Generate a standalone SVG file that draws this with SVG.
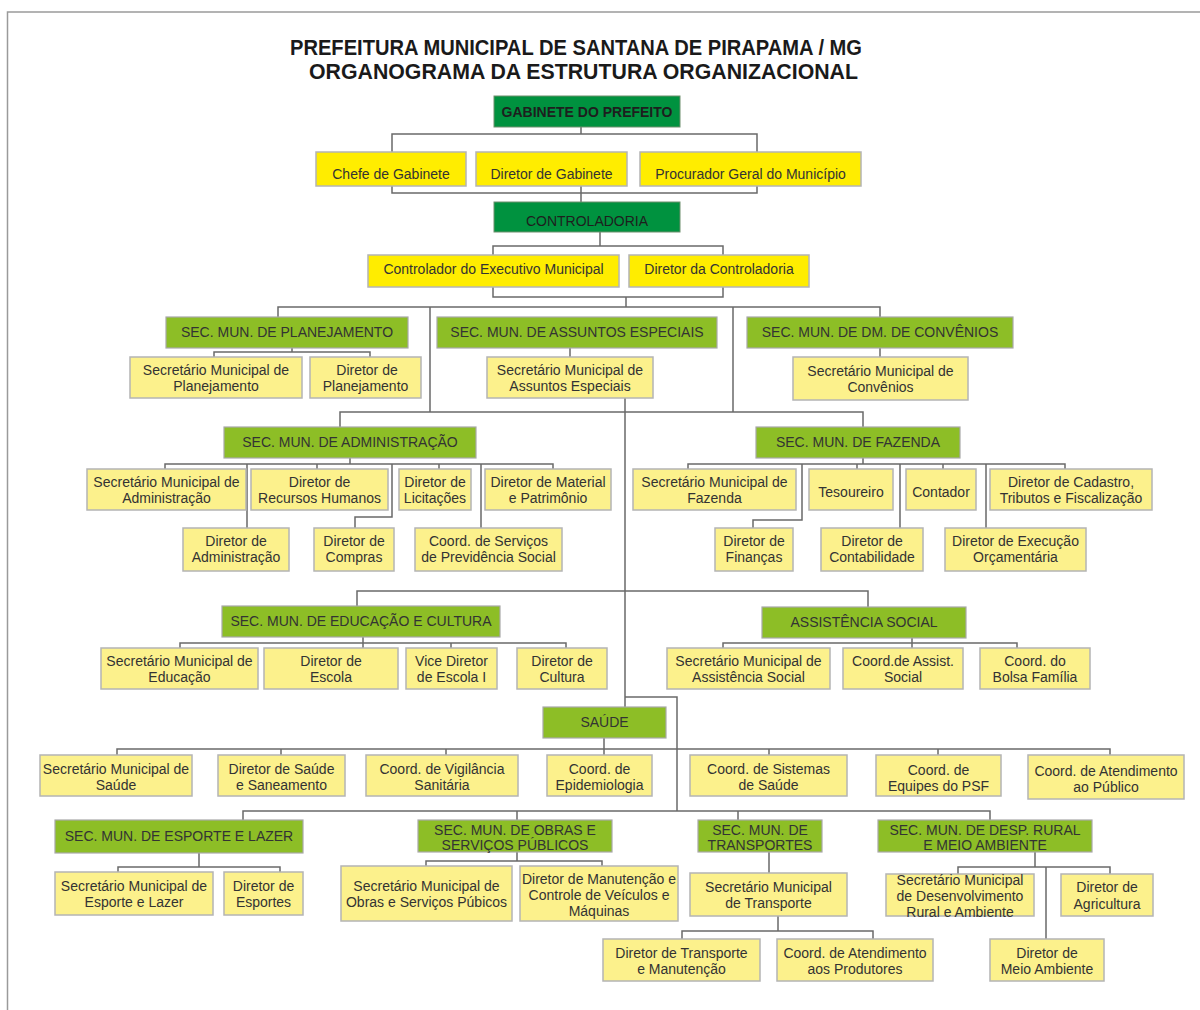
<svg xmlns="http://www.w3.org/2000/svg" width="1200" height="1010" viewBox="0 0 1200 1010">
<style>
.bg{fill:#ffffff}
.frame{stroke:#9a9a9a;stroke-width:1.5;fill:none}
.dg{fill:#00923f;stroke:#6f8f6f;stroke-width:1}
.yb{fill:#ffed00;stroke:#b4b4b4;stroke-width:1.5}
.lg{fill:#8dbe26;stroke:#a8a8a8;stroke-width:1.2}
.py{fill:#fcf18c;stroke:#b4b4b4;stroke-width:1.5}
text{font-family:"Liberation Sans",Arial,sans-serif;font-size:14px;fill:#333;text-anchor:middle}
.b{font-weight:bold;fill:#1e1e1e}
.title{font-weight:bold;font-size:22px;fill:#1a1a1a;text-anchor:start}
.c{stroke:#6a6a6a;stroke-width:1.5;fill:none}
</style>
<rect class="bg" x="0" y="0" width="1200" height="1010"/>
<path class="frame" d="M7.5,1010 V12 H1200"/>
<text class="title" x="290" y="55" textLength="572" lengthAdjust="spacingAndGlyphs">PREFEITURA MUNICIPAL DE SANTANA DE PIRAPAMA / MG</text>
<text class="title" x="309" y="79" textLength="549" lengthAdjust="spacingAndGlyphs">ORGANOGRAMA DA ESTRUTURA ORGANIZACIONAL</text>

<g id="connectors">
<path class="c" d="M581,127 V134 M392,152 V134 H757 V152"/>
<path class="c" d="M392,186 V193 H757 V186 M581,186 V202"/>
<path class="c" d="M600,232 V246 M493,255 V246 H723 V255"/>
<path class="c" d="M493,287 V297 H723 V287 M626,297 V307"/>
<path class="c" d="M278,317 V307 H880 V317 M430,307 V412 M733,307 V412"/>
<path class="c" d="M292,348 V352 M214,357 V352 H370 V357"/>
<path class="c" d="M570,348 V357"/>
<path class="c" d="M880,348 V357"/>
<path class="c" d="M340,427 V412 H863 V427"/>
<path class="c" d="M625,398 V707 M625,697 H677 V811"/>
<path class="c" d="M350,458 V464 M165,469 V464 H553 V469 M317,464 V469 M439,464 V469 M247,464 V528 M392,464 V517 H355 V528 M481,464 V528"/>
<path class="c" d="M863,458 V464 M688,469 V464 H1065 V469 M857,464 V469 M943,464 V469 M802,464 V520 H753 V528 M900,464 V528 M986,464 V528"/>
<path class="c" d="M357,606 V591 H868 V607"/>
<path class="c" d="M363,637 V648 M180,648 V643 H566 V648 M451,643 V648"/>
<path class="c" d="M912,638 V648 M723,648 V643 H1017 V648"/>
<path class="c" d="M604,738 V755 M117,755 V749 H1110 V755 M281,749 V755 M446,749 V755 M769,749 V755 M938,749 V755"/>
<path class="c" d="M243,820 V811 H990 V820 M517,811 V820 M738,811 V820"/>
<path class="c" d="M199,853 V867 M118,872 V867 H280 V872"/>
<path class="c" d="M517,852 V861 M426,866 V861 H602 V866"/>
<path class="c" d="M769,852 V873 M778,916 V931 M682,939 V931 H873 V939"/>
<path class="c" d="M1035,852 V867 M958,874 V867 H1110 V874 M1046,867 V939"/>
</g>

<g id="gabinete"><rect class="dg" x="494" y="96" width="186" height="31"/><text class="b" x="587" y="117">GABINETE DO PREFEITO</text></g>
<g id="chefe"><rect class="yb" x="316" y="152" width="150" height="34"/><text x="391" y="179">Chefe de Gabinete</text></g>
<g id="dirgab"><rect class="yb" x="476" y="152" width="151" height="34"/><text x="551.5" y="179">Diretor de Gabinete</text></g>
<g id="procurador"><rect class="yb" x="640" y="152" width="221" height="34"/><text x="750.5" y="179">Procurador Geral do Município</text></g>
<g id="controladoria"><rect class="dg" x="494" y="202" width="186" height="30"/><text x="587" y="226" style="fill:#1e1e1e">CONTROLADORIA</text></g>
<g id="controlador"><rect class="yb" x="368" y="255" width="251" height="32"/><text x="493.5" y="274">Controlador do Executivo Municipal</text></g>
<g id="dirctrl"><rect class="yb" x="629" y="255" width="180" height="32"/><text x="719" y="274">Diretor da Controladoria</text></g>

<g id="planejamento"><rect class="lg" x="166" y="317" width="242" height="31"/><text x="287" y="337">SEC. MUN. DE PLANEJAMENTO</text></g>
<g id="assuntos"><rect class="lg" x="437" y="317" width="280" height="31"/><text x="577" y="337">SEC. MUN. DE ASSUNTOS ESPECIAIS</text></g>
<g id="convenios"><rect class="lg" x="747" y="317" width="266" height="31"/><text x="880" y="337">SEC. MUN. DE DM. DE CONVÊNIOS</text></g>
<g id="secplan"><rect class="py" x="130" y="357" width="172" height="41"/><text x="216" y="375">Secretário Municipal de</text><text x="216" y="391">Planejamento</text></g>
<g id="dirplan"><rect class="py" x="310" y="357" width="111" height="41"/><text x="367" y="375">Diretor de</text><text x="365.5" y="391">Planejamento</text></g>
<g id="secassu"><rect class="py" x="487" y="357" width="166" height="41"/><text x="570" y="375">Secretário Municipal de</text><text x="570" y="391">Assuntos Especiais</text></g>
<g id="secconv"><rect class="py" x="793" y="357" width="175" height="43"/><text x="880.5" y="376">Secretário Municipal de</text><text x="880.5" y="392">Convênios</text></g>

<g id="administracao"><rect class="lg" x="224" y="427" width="252" height="31"/><text x="350" y="447">SEC. MUN. DE ADMINISTRAÇÃO</text></g>
<g id="secadm"><rect class="py" x="87" y="469" width="159" height="41"/><text x="166.5" y="487">Secretário Municipal de</text><text x="166.5" y="503">Administração</text></g>
<g id="dirrh"><rect class="py" x="251" y="469" width="137" height="41"/><text x="319.5" y="487">Diretor de</text><text x="319.5" y="503">Recursos Humanos</text></g>
<g id="dirlic"><rect class="py" x="399" y="469" width="72" height="41"/><text x="435" y="487">Diretor de</text><text x="435" y="503">Licitações</text></g>
<g id="dirmat"><rect class="py" x="485" y="469" width="126" height="41"/><text x="548" y="487">Diretor de Material</text><text x="548" y="503">e Patrimônio</text></g>
<g id="diradm"><rect class="py" x="183" y="528" width="106" height="43"/><text x="236" y="546">Diretor de</text><text x="236" y="562">Administração</text></g>
<g id="dircomp"><rect class="py" x="314" y="528" width="80" height="43"/><text x="354" y="546">Diretor de</text><text x="354" y="562">Compras</text></g>
<g id="coordprev"><rect class="py" x="415" y="528" width="147" height="43"/><text x="488.5" y="546">Coord. de Serviços</text><text x="488.5" y="562">de Previdência Social</text></g>

<g id="fazenda"><rect class="lg" x="756" y="427" width="204" height="31"/><text x="858" y="447">SEC. MUN. DE FAZENDA</text></g>
<g id="secfaz"><rect class="py" x="633" y="469" width="163" height="41"/><text x="714.5" y="487">Secretário Municipal de</text><text x="714.5" y="503">Fazenda</text></g>
<g id="tesoureiro"><rect class="py" x="809" y="469" width="84" height="41"/><text x="851" y="497">Tesoureiro</text></g>
<g id="contador"><rect class="py" x="906" y="469" width="70" height="41"/><text x="941" y="497">Contador</text></g>
<g id="dircad"><rect class="py" x="990" y="469" width="162" height="41"/><text x="1071" y="487">Diretor de Cadastro,</text><text x="1071" y="503">Tributos e Fiscalização</text></g>
<g id="dirfin"><rect class="py" x="715" y="528" width="78" height="43"/><text x="754" y="546">Diretor de</text><text x="754" y="562">Finanças</text></g>
<g id="dircont"><rect class="py" x="821" y="528" width="102" height="43"/><text x="872" y="546">Diretor de</text><text x="872" y="562">Contabilidade</text></g>
<g id="direxec"><rect class="py" x="945" y="528" width="141" height="43"/><text x="1015.5" y="546">Diretor de Execução</text><text x="1015.5" y="562">Orçamentária</text></g>

<g id="educacao"><rect class="lg" x="222" y="606" width="278" height="31"/><text x="361" y="626">SEC. MUN. DE EDUCAÇÃO E CULTURA</text></g>
<g id="seceduc"><rect class="py" x="101" y="648" width="157" height="41"/><text x="179.5" y="666">Secretário Municipal de</text><text x="179.5" y="682">Educação</text></g>
<g id="direscola"><rect class="py" x="264" y="648" width="134" height="41"/><text x="331" y="666">Diretor de</text><text x="331" y="682">Escola</text></g>
<g id="vicedir"><rect class="py" x="406" y="648" width="91" height="41"/><text x="451.5" y="666">Vice Diretor</text><text x="451.5" y="682">de Escola I</text></g>
<g id="dircult"><rect class="py" x="517" y="648" width="90" height="41"/><text x="562" y="666">Diretor de</text><text x="562" y="682">Cultura</text></g>

<g id="assistencia"><rect class="lg" x="762" y="607" width="204" height="31"/><text x="864" y="627">ASSISTÊNCIA SOCIAL</text></g>
<g id="secassist"><rect class="py" x="667" y="648" width="163" height="41"/><text x="748.5" y="666">Secretário Municipal de</text><text x="748.5" y="682">Assistência Social</text></g>
<g id="coordassist"><rect class="py" x="843" y="648" width="120" height="41"/><text x="903" y="666">Coord.de Assist.</text><text x="903" y="682">Social</text></g>
<g id="bolsa"><rect class="py" x="980" y="648" width="110" height="41"/><text x="1035" y="666">Coord. do</text><text x="1035" y="682">Bolsa Família</text></g>

<g id="saude"><rect class="lg" x="543" y="707" width="123" height="31"/><text x="604.5" y="727">SAÚDE</text></g>
<g id="secsaude"><rect class="py" x="40" y="755" width="152" height="41"/><text x="116" y="774">Secretário Municipal de</text><text x="116" y="790">Saúde</text></g>
<g id="dirsaude"><rect class="py" x="218" y="755" width="127" height="41"/><text x="281.5" y="774">Diretor de Saúde</text><text x="281.5" y="790">e Saneamento</text></g>
<g id="vigilancia"><rect class="py" x="366" y="755" width="152" height="41"/><text x="442" y="774">Coord. de Vigilância</text><text x="442" y="790">Sanitária</text></g>
<g id="epidem"><rect class="py" x="547" y="755" width="105" height="41"/><text x="599.5" y="774">Coord. de</text><text x="599.5" y="790">Epidemiologia</text></g>
<g id="sistemas"><rect class="py" x="690" y="755" width="157" height="41"/><text x="768.5" y="774">Coord. de Sistemas</text><text x="768.5" y="790">de Saúde</text></g>
<g id="psf"><rect class="py" x="876" y="755" width="125" height="41"/><text x="938.5" y="775">Coord. de</text><text x="938.5" y="791">Equipes do PSF</text></g>
<g id="atendpub"><rect class="py" x="1028" y="755" width="156" height="44"/><text x="1106" y="776">Coord. de Atendimento</text><text x="1106" y="792">ao Público</text></g>

<g id="esporte"><rect class="lg" x="55" y="820" width="248" height="33"/><text x="179" y="841">SEC. MUN. DE ESPORTE E LAZER</text></g>
<g id="secesp"><rect class="py" x="55" y="872" width="158" height="43"/><text x="134" y="891">Secretário Municipal de</text><text x="134" y="907">Esporte e Lazer</text></g>
<g id="diresp"><rect class="py" x="224" y="872" width="79" height="43"/><text x="263.5" y="891">Diretor de</text><text x="263.5" y="907">Esportes</text></g>

<g id="obras"><rect class="lg" x="418" y="820" width="194" height="32"/><text x="515" y="835">SEC. MUN. DE OBRAS E</text><text x="515" y="850">SERVIÇOS PÚBLICOS</text></g>
<g id="secobras"><rect class="py" x="341" y="866" width="171" height="55"/><text x="426.5" y="891">Secretário Municipal de</text><text x="426.5" y="907">Obras e Serviços Púbicos</text></g>
<g id="dirmanut"><rect class="py" x="520" y="866" width="158" height="55"/><text x="599" y="884">Diretor de Manutenção e</text><text x="599" y="900">Controle de Veículos e</text><text x="599" y="916">Máquinas</text></g>

<g id="transportes"><rect class="lg" x="698" y="820" width="124" height="32"/><text x="760" y="835">SEC. MUN. DE</text><text x="760" y="850">TRANSPORTES</text></g>
<g id="sectransp"><rect class="py" x="690" y="873" width="157" height="43"/><text x="768.5" y="892">Secretário Municipal</text><text x="768.5" y="908">de Transporte</text></g>
<g id="dirtransp"><rect class="py" x="603" y="939" width="157" height="42"/><text x="681.5" y="958">Diretor de Transporte</text><text x="681.5" y="974">e Manutenção</text></g>
<g id="coordprod"><rect class="py" x="777" y="939" width="156" height="42"/><text x="855" y="958">Coord. de Atendimento</text><text x="855" y="974">aos Produtores</text></g>

<g id="rural"><rect class="lg" x="878" y="820" width="214" height="32"/><text x="985" y="835">SEC. MUN. DE DESP. RURAL</text><text x="985" y="850">E MEIO AMBIENTE</text></g>
<g id="secrural"><rect class="py" x="886" y="874" width="148" height="42"/><text x="960" y="885">Secretário Municipal</text><text x="960" y="901">de Desenvolvimento</text><text x="960" y="917">Rural e Ambiente</text></g>
<g id="diragri"><rect class="py" x="1061" y="874" width="92" height="42"/><text x="1107" y="892">Diretor de</text><text x="1107" y="909">Agricultura</text></g>
<g id="dirmeio"><rect class="py" x="990" y="939" width="114" height="42"/><text x="1047" y="958">Diretor de</text><text x="1047" y="974">Meio Ambiente</text></g>
</svg>
